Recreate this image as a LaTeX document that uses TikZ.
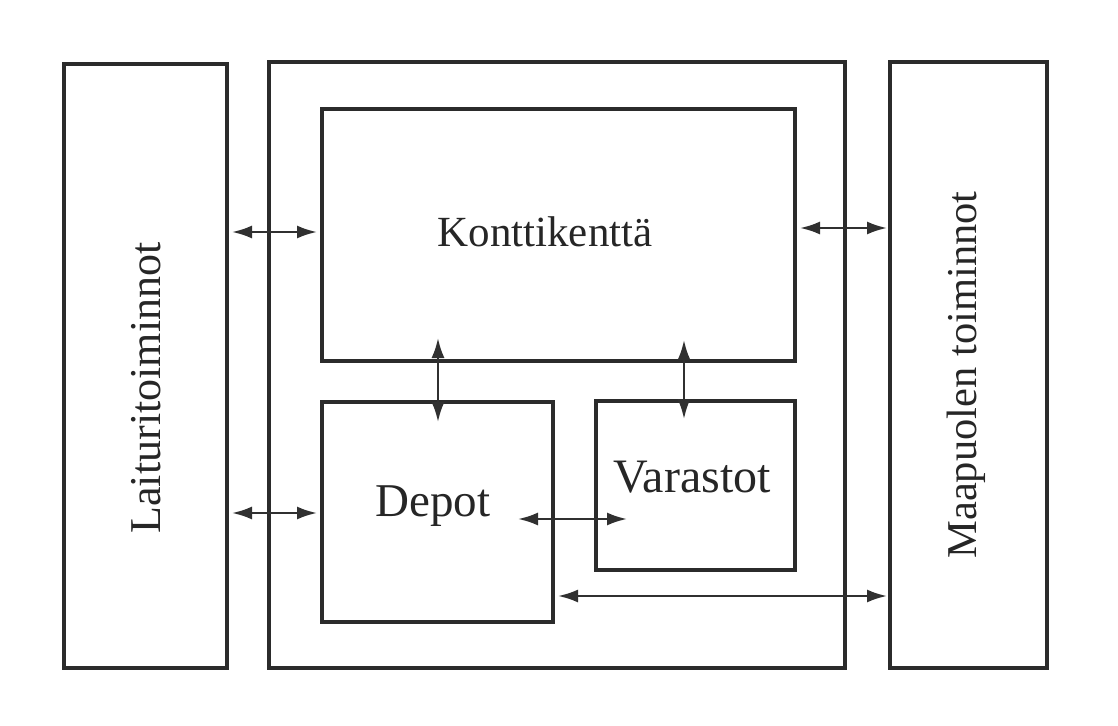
\documentclass[tikz,border=0pt]{standalone}
\usepackage{fontspec}
\setmainfont{Liberation Serif}
\usetikzlibrary{arrows.meta,calc}
\definecolor{boxc}{HTML}{2B2B2B}
\definecolor{arrc}{HTML}{303030}
\definecolor{txtc}{HTML}{262626}
\begin{document}
\begin{tikzpicture}[x=1pt,y=-1pt,
  box/.style={draw=boxc, line width=3.5pt, rectangle, inner sep=0pt, outer sep=0pt},
  lbl/.style={font=\fontsize{44}{50}\selectfont, text=txtc, inner sep=0pt},
  conn/.style={draw=arrc, line width=2.4pt, {Latex[length=20pt,width=13pt]}-{Latex[length=20pt,width=13pt]}}]
\useasboundingbox (0,0) rectangle (1118,725);
\fill[white] (0,0) rectangle (1118,725);
% outer boxes
\node[box, minimum width=163pt, minimum height=604pt] (laitur) at (145.5,366) {};
\node[box, minimum width=576pt, minimum height=606pt] (mid) at (557,365) {};
\node[box, minimum width=157pt, minimum height=606pt] (maa) at (968.5,365) {};
% inner boxes
\node[box, minimum width=473pt, minimum height=252pt] (kontti) at (558.5,235) {};
\node[box, minimum width=231pt, minimum height=220pt] (depot) at (437.5,512) {};
\node[box, minimum width=199pt, minimum height=169pt] (varasto) at (695.5,485.5) {};
% labels
\node[lbl, rotate=90] (laiturtxt) at (146,388) {Laituritoiminnot};
\node[lbl, rotate=90, font=\fontsize{42.5}{48}\selectfont] (maatxt) at (966,375) {Maapuolen toiminnot};
\node[lbl, font=\fontsize{43}{50}\selectfont, anchor=base] (konttitxt) at (545,246) {Konttikenttä};
\node[lbl, font=\fontsize{47}{50}\selectfont, anchor=base] (depottxt) at (433,516) {Depot};
\node[lbl, font=\fontsize{48}{50}\selectfont, anchor=base] (varastotxt) at (692,492) {Varastot};
% connectors
\draw[conn] ($(laitur.east |- 0,232)+(5,0)$) -- ($(kontti.west |- 0,232)+(-5,0)$);
\draw[conn] ($(laitur.east |- 0,513)+(5,0)$) -- ($(depot.west |- 0,513)+(-5,0)$);
\draw[conn] ($(kontti.east |- 0,228)+(5,0)$) -- ($(maa.west |- 0,228)+(-3,0)$);
\draw[conn] ($(kontti.south -| 438,0)+(0,-23)$) -- ($(depot.north -| 438,0)+(0,20)$);
\draw[conn] ($(kontti.south -| 684,0)+(0,-21)$) -- ($(varasto.north -| 684,0)+(0,18)$);
\draw[conn] ($(depot.east |- 0,519)+(-35,0)$) -- ($(varasto.west |- 0,519)+(31,0)$);
\draw[conn] ($(depot.east |- 0,596)+(5,0)$) -- ($(maa.west |- 0,596)+(-3,0)$);
\end{tikzpicture}
\end{document}
